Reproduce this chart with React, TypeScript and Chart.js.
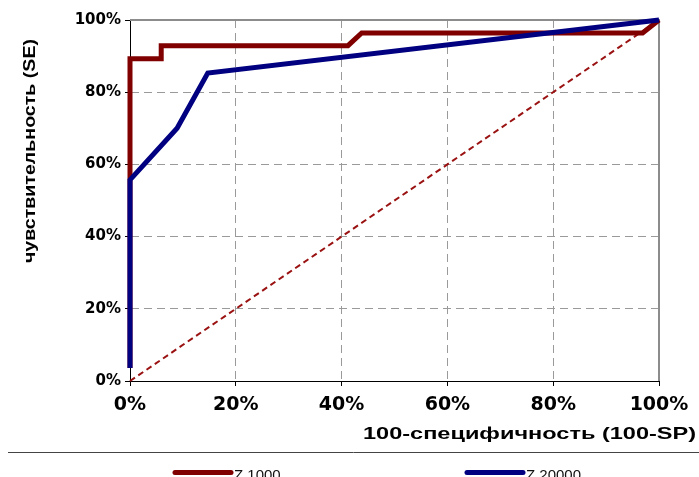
import { useEffect, useRef } from "react";
import { Chart, registerables } from "chart.js";

Chart.register(...registerables);

// ROC curves: x = 100 - specificity, y = sensitivity (both in %)
const seriesNames = ["Z 1000", "Z 20000"];
const seriesColors = ["#800000", "#000080"];
const z1000X = [0, 0, 5.9, 5.9, 41.2, 43.8, 96.9, 100];
const z1000Y = [3.6, 89.3, 89.3, 92.9, 92.9, 96.4, 96.4, 100];
const z20000X = [0, 0, 8.9, 14.7, 100];
const z20000Y = [3.6, 55.7, 70.0, 85.3, 100];
const diagonalX = [0, 100];
const diagonalY = [0, 100];
const tickValues = [0, 20, 40, 60, 80, 100];
const axisTitleX = "100-специфичность (100-SP)";
const axisTitleY = "чувствительность (SE)";

const toPoints = (xs: number[], ys: number[]) => xs.map((x, i) => ({ x, y: ys[i] }));

const isEdge = (v: number) => v === tickValues[0] || v === tickValues[tickValues.length - 1];

// draws text stretched/condensed so that it spans the given length
function fitText(ctx: CanvasRenderingContext2D, text: string, length: number) {
  const w = ctx.measureText(text).width;
  ctx.scale(length / w, 1);
  ctx.fillText(text, 0, 0);
}

const framePlugin = {
  id: "rocFrame",
  beforeDatasetsDraw(chart: any) {
    const { ctx, chartArea: a } = chart;
    ctx.save();
    ctx.strokeStyle = "#8c8c8c";
    ctx.lineWidth = 2;
    ctx.beginPath();
    ctx.moveTo(a.left, a.top);
    ctx.lineTo(a.right, a.top);
    ctx.lineTo(a.right, a.bottom);
    ctx.stroke();
    ctx.restore();
  },
  afterDraw(chart: any) {
    const { ctx } = chart;
    ctx.save();
    ctx.fillStyle = "#000";

    // x axis title, right aligned under the tick labels
    ctx.save();
    ctx.font = "bold 17px 'Liberation Sans', Arial, sans-serif";
    ctx.textBaseline = "alphabetic";
    ctx.textAlign = "left";
    ctx.translate(363, 439);
    fitText(ctx, axisTitleX, 333);
    ctx.restore();

    // y axis title, rotated
    ctx.save();
    ctx.font = "bold 17px 'Liberation Sans', Arial, sans-serif";
    ctx.textBaseline = "middle";
    ctx.textAlign = "left";
    ctx.translate(30, 263);
    ctx.rotate(-Math.PI / 2);
    fitText(ctx, axisTitleY, 224);
    ctx.restore();

    // separator above the legend
    ctx.strokeStyle = "#444";
    ctx.lineWidth = 1;
    ctx.beginPath();
    ctx.moveTo(8, 452.5);
    ctx.lineTo(chart.width, 452.5);
    ctx.stroke();

    // legend
    const starts = [175, 467];
    ctx.font = "15px 'Liberation Sans', Arial, sans-serif";
    ctx.textBaseline = "top";
    ctx.textAlign = "left";
    seriesNames.forEach((name, i) => {
      const x0 = starts[i];
      ctx.strokeStyle = seriesColors[i];
      ctx.lineWidth = 5;
      ctx.lineCap = "round";
      ctx.beginPath();
      ctx.moveTo(x0, 472.5);
      ctx.lineTo(x0 + 56, 472.5);
      ctx.stroke();
      ctx.fillStyle = "#111";
      ctx.fillText(name, x0 + 59, 468);
    });
    ctx.restore();
  },
};

const gridColor = (c: any) => (isEdge(c.tick?.value) ? "rgba(0,0,0,0)" : "#9a9a9a");

export default function App() {
  const ref = useRef<HTMLCanvasElement | null>(null);

  useEffect(() => {
    if (!ref.current) return;
    const chart = new Chart(ref.current, {
      type: "line",
      data: {
        datasets: [
          {
            label: seriesNames[0],
            data: toPoints(z1000X, z1000Y),
            borderColor: seriesColors[0],
            backgroundColor: seriesColors[0],
            borderWidth: 5,
            pointRadius: 0,
            tension: 0,
            fill: false,
            order: 2,
            clip: 8,
          },
          {
            label: seriesNames[1],
            data: toPoints(z20000X, z20000Y),
            borderColor: seriesColors[1],
            backgroundColor: seriesColors[1],
            borderWidth: 5,
            pointRadius: 0,
            tension: 0,
            fill: false,
            order: 1,
            clip: 8,
          },
          {
            label: "reference",
            data: toPoints(diagonalX, diagonalY),
            borderColor: "#9a1212",
            borderWidth: 2,
            borderDash: [6, 4],
            pointRadius: 0,
            tension: 0,
            fill: false,
            order: 3,
            clip: 4,
          },
        ],
      },
      options: {
        animation: false,
        responsive: false,
        maintainAspectRatio: false,
        layout: { padding: { left: 0, top: 20, right: 40, bottom: 66 } },
        plugins: { legend: { display: false }, tooltip: { enabled: false } },
        scales: {
          x: {
            type: "linear",
            min: 0,
            max: 100,
            afterFit: (s: any) => {
              s.height = 30;
            },
            afterBuildTicks: (s: any) => {
              s.ticks = tickValues.map((value) => ({ value }));
            },
            ticks: {
              color: "#000",
              padding: 8,
              maxRotation: 0,
              font: { family: "'DejaVu Sans', Verdana, sans-serif", size: 19, weight: "bold" },
              callback: (v: any) => `${v}%`,
            },
            grid: {
              color: gridColor,
              lineWidth: 1,
              tickLength: 5,
              tickColor: "#000",
              tickWidth: 1,
            },
            border: { display: true, color: "#000", width: 1, dash: [8, 5] },
          },
          y: {
            type: "linear",
            min: 0,
            max: 100,
            afterFit: (s: any) => {
              s.width = 130;
            },
            afterBuildTicks: (s: any) => {
              s.ticks = tickValues.map((value) => ({ value }));
            },
            ticks: {
              color: "#000",
              padding: 4,
              font: { family: "'DejaVu Sans', Verdana, sans-serif", size: 15, weight: "bold" },
              callback: (v: any) => `${v}%`,
            },
            grid: {
              color: gridColor,
              lineWidth: 1,
              tickLength: 5,
              tickColor: "#000",
              tickWidth: 1,
            },
            border: { display: true, color: "#000", width: 1, dash: [8, 5] },
          },
        },
      },
      plugins: [framePlugin],
    });
    return () => chart.destroy();
  }, []);

  return (
    <div style={{ position: "fixed", left: 0, top: 0, width: 699, height: 477, background: "#fff" }}>
      <canvas ref={ref} width={699} height={477} />
    </div>
  );
}
